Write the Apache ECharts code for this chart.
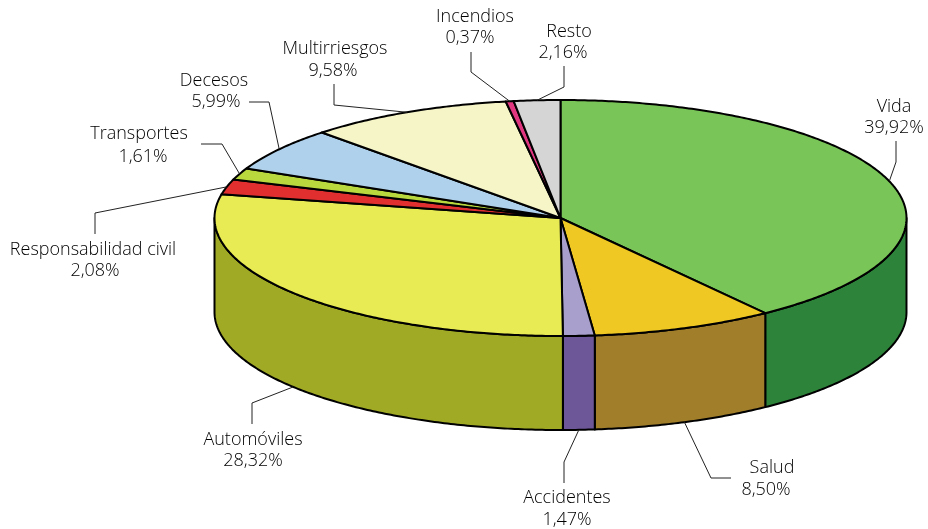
<!DOCTYPE html>
<html>
<head>
<meta charset="utf-8">
<style>
  html, body { margin: 0; padding: 0; background: #fff; }
  #chart { width: 928px; height: 529px; }
</style>
<script src="https://cdn.jsdelivr.net/npm/echarts@6/dist/echarts.min.js"></script>
</head>
<body>
<div id="chart"></div>
<script>
// clockwise from 12 o'clock
const categories = ['Vida', 'Salud', 'Accidentes', 'Automóviles', 'Responsabilidad civil', 'Transportes', 'Decesos', 'Multirriesgos', 'Incendios', 'Resto'];
const shares = [39.92, 8.50, 1.47, 28.32, 2.08, 1.61, 5.99, 9.58, 0.37, 2.16];
const topColors = ['#7AC558', '#F0C823', '#A89FCC', '#E8EB53', '#E02F2E', '#B9D83E', '#AFD1EB', '#F6F5C8', '#E0357F', '#D5D5D5'];
const sideColors = ['#2E833A', '#A07E2A', '#6E5799', '#A1AA25', '#A1AA25', '#A1AA25', '#A1AA25', '#A1AA25', '#A1AA25', '#A1AA25'];

// [name x, name y, value x, value y]
const labelPlaces = [
  [894, 107, 894, 128],
  [772, 468, 766, 490],
  [567, 498, 567, 520],
  [253, 440, 253, 461],
  [93, 250, 95, 271],
  [139, 134, 143, 157],
  [214, 81, 216, 102],
  [335, 49, 333, 71],
  [475, 17, 470, 38],
  [569, 32, 563, 53]
];
// leader line, continues from the middle of the slice's rim
const leaderBends = [
  [[896, 162], [896, 141]],
  [[711, 478], [731, 478]],
  [[564, 462], [564, 483]],
  [[252, 403], [252, 424]],
  [[95, 213], [95, 234]],
  [[222, 144], [201, 144]],
  [[269, 102], [249, 102]],
  [[334, 105], [334, 84]],
  [[471, 72], [471, 52]],
  [[564, 87], [564, 66]]
];

const cx = 560.5, cy = 218, rx = 346, ry = 118, depth = 94;
const FONT = '"Open Sans", "Noto Sans", sans-serif';

const total = shares.reduce((a, b) => a + b, 0);
const starts = [];
shares.reduce((sum, v, i) => { starts[i] = sum; return sum + v; }, 0);

function angle(part) {
  return part / total * 2 * Math.PI;
}
function rim(t, drop) {
  return [cx + rx * Math.sin(t), cy - ry * Math.cos(t) + (drop || 0)];
}
function arc(from, to, drop) {
  const pts = [];
  const n = Math.max(2, Math.ceil((to - from) / 0.01));
  for (let i = 0; i <= n; i++) {
    pts.push(rim(from + (to - from) * i / n, drop));
  }
  return pts;
}

function renderWall(params, api) {
  const i = params.dataIndex;
  const from = Math.max(angle(starts[i]), Math.PI / 2);
  const to = Math.min(angle(starts[i]) + angle(api.value(0)), Math.PI * 1.5);
  if (to <= from) return { type: 'group', children: [] };
  return {
    type: 'polygon',
    shape: { points: arc(from, to, 0).concat(arc(from, to, depth).reverse()) },
    style: { fill: sideColors[i], stroke: '#000', lineWidth: 2, lineJoin: 'round' }
  };
}

function renderTop(params, api) {
  const i = params.dataIndex;
  const from = angle(starts[i]);
  const to = from + angle(api.value(0));
  return {
    type: 'polygon',
    shape: { points: [[cx, cy]].concat(arc(from, to, 0)) },
    style: { fill: topColors[i], stroke: '#000', lineWidth: 2, lineJoin: 'round' }
  };
}

function renderLabel(params, api) {
  const i = params.dataIndex;
  const v = api.value(0);
  const mid = angle(starts[i] + v / 2);
  const front = mid > Math.PI / 2 && mid < Math.PI * 1.5;
  const place = labelPlaces[i];
  const textStyle = { fill: '#000', fontFamily: FONT, fontSize: 18, fontWeight: 300, align: 'center', verticalAlign: 'middle' };
  return {
    type: 'group',
    children: [
      {
        type: 'polyline',
        shape: { points: [rim(mid, front ? depth : 0)].concat(leaderBends[i]) },
        style: { fill: 'none', stroke: '#222', lineWidth: 1 }
      },
      { type: 'text', style: Object.assign({ text: categories[i], x: place[0], y: place[1] }, textStyle) },
      { type: 'text', style: Object.assign({ text: v.toFixed(2).replace('.', ',') + '%', x: place[2], y: place[3] }, textStyle) }
    ]
  };
}

const chart = echarts.init(document.getElementById('chart'), null, { renderer: 'canvas' });
const seriesData = shares.map((v, i) => ({ name: categories[i], value: [v] }));
chart.setOption({
  animation: false,
  backgroundColor: '#fff',
  series: [
    { type: 'custom', coordinateSystem: 'none', silent: true, z: 1, renderItem: renderWall, data: seriesData },
    { type: 'custom', coordinateSystem: 'none', silent: true, z: 2, renderItem: renderTop, data: seriesData },
    { type: 'custom', coordinateSystem: 'none', silent: true, z: 3, renderItem: renderLabel, data: seriesData }
  ]
});
</script>
</body>
</html>
